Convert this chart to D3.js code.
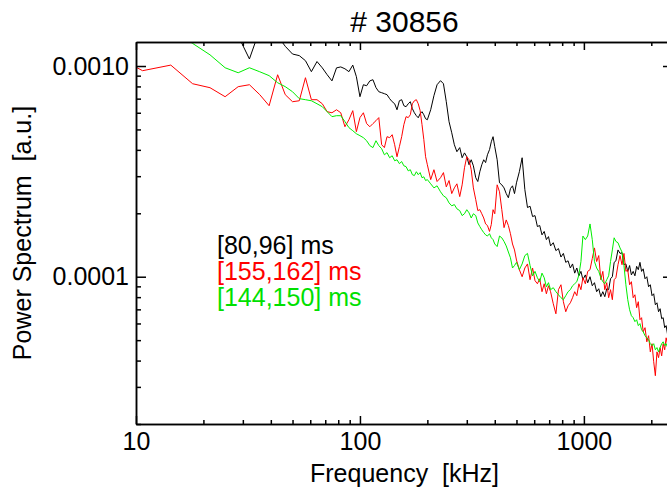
<!DOCTYPE html>
<html>
<head>
<meta charset="utf-8">
<script src="https://cdn.jsdelivr.net/npm/d3@7"></script>
<style>
  body { margin: 0; background: #fff; }
  svg { display: block; }
</style>
</head>
<body>
<script>
(function (d3) {
  'use strict';

  // frequency bins [kHz], shared by the three spectra
  const freq = [
    7.1, 10.7, 14.3, 17.9, 21.4, 25.0, 28.6, 32.1, 35.7, 39.3, 42.9, 46.4, 50.0, 53.6, 57.1, 60.7, 64.3, 67.9, 71.4, 75.0, 78.6, 82.1, 85.7, 89.3, 92.9, 96.4, 100,
    103.6, 107.1, 110.7, 114.3, 117.9, 121.4, 125.0, 128.6, 132.1, 135.7, 139.3, 142.9, 146.4, 150.0, 153.6, 157.1, 160.7, 164.3, 167.9, 171.4, 175.0, 178.6, 182.1, 185.7, 189.3, 192.9, 196.4, 200,
    207, 214, 221, 229, 236, 243, 250, 257, 264, 271, 279, 286, 293, 300, 307, 314, 321, 329, 336, 343, 350, 357, 364, 371, 379, 386, 393, 400,
    410, 420, 430, 440, 450, 460, 470, 480, 490, 500,
    515, 530, 545, 560, 575, 590, 605, 620, 635, 650, 665, 680, 695, 710,
    730, 750, 770, 790, 810, 830, 850, 870, 890, 910, 930, 950, 970, 990,
    1015, 1040, 1065, 1090, 1115, 1140, 1165, 1190, 1215, 1240, 1265, 1290, 1315, 1340, 1365, 1390,
    1420, 1450, 1480, 1510, 1540, 1570, 1600, 1630, 1660, 1690, 1720, 1750, 1780, 1810, 1840,
    1875, 1910, 1945, 1980, 2015, 2050, 2085, 2120, 2155, 2190, 2225, 2260, 2295, 2330, 2365, 2400, 2435, 2470, 2500,
  ];

  // [80,96] ms
  const spec80 = [
    2.6e-3, 2.4e-3, 2.2e-3, 2.0e-3, 1.9e-3, 1.8e-3, 1.39e-3, 1.08e-3, 1.49e-3, 1.57e-3, 1.39e-3, 1.24e-3, 1.14e-3, 1.12e-3, 1.06e-3, 9.4e-4, 1.05e-3, 9.8e-4, 9.09e-4, 8.5e-4, 9.8e-4, 9.9e-4, 9.7e-4, 9.4e-4, 1.01e-3, 8.9e-4, 7.15e-4,
    8.15e-4, 8.06e-4, 8.5e-4, 8.61e-4, 7.9e-4, 7.55e-4, 7.47e-4, 7.39e-4, 7.31e-4, 7.0e-4, 6.77e-4, 6.62e-4, 6.2e-4, 6.84e-4, 6.92e-4, 6.48e-4, 6.41e-4, 6.62e-4, 6.77e-4, 6.28e-4, 6.0e-4, 5.81e-4, 5.68e-4, 5.94e-4, 6.07e-4, 5.87e-4, 5.62e-4, 5.56e-4,
    6.2e-4, 7.23e-4, 8.15e-4, 8.52e-4, 8.24e-4, 6.77e-4, 5.44e-4, 4.82e-4, 4.23e-4, 3.92e-4, 4.1e-4, 3.67e-4, 3.87e-4, 3.71e-4, 3.4e-4, 3.59e-4, 3.36e-4, 2.95e-4, 2.83e-4, 3.15e-4, 3.4e-4, 3.59e-4, 3.48e-4, 3.79e-4, 4.01e-4, 4.37e-4, 4.62e-4, 4.14e-4,
    3.59e-4, 2.79e-4, 2.73e-4, 2.64e-4, 2.48e-4, 2.37e-4, 2.62e-4, 2.7e-4, 2.48e-4, 2.79e-4,
    3.15e-4, 3.67e-4, 2.59e-4, 2.13e-4, 2.16e-4, 1.93e-4, 1.95e-4, 1.73e-4, 1.75e-4, 1.58e-4, 1.64e-4, 1.5e-4, 1.55e-4, 1.4e-4,
    1.45e-4, 1.33e-4, 1.36e-4, 1.24e-4, 1.29e-4, 1.17e-4, 1.19e-4, 1.1e-4, 1.15e-4, 1.04e-4, 1.1e-4, 1.01e-4, 1.06e-4, 9.68e-5,
    1.02e-4, 9.36e-5, 1.0e-4, 9.06e-5, 9.37e-5, 8.49e-5, 8.77e-5, 8.04e-5, 8.49e-5, 8.04e-5, 8.77e-5, 8.68e-5, 9.78e-5, 1.0e-4, 1.17e-4, 1.19e-4,
    1.34e-4, 1.29e-4, 1.3e-4, 1.14e-4, 1.15e-4, 1.06e-4, 1.13e-4, 1.02e-4, 1.06e-4, 1.01e-4, 1.12e-4, 1.08e-4, 1.17e-4, 1.06e-4, 1.09e-4,
    9.78e-5, 1.0e-4, 8.96e-5, 9.16e-5, 8.13e-5, 8.3e-5, 7.36e-5, 7.52e-5, 6.82e-5, 7.05e-5, 6.32e-5, 6.39e-5, 5.73e-5, 5.86e-5, 5.31e-5, 5.43e-5, 4.92e-5, 5.08e-5, 4.61e-5,
  ];

  // [155,162] ms
  const spec155 = [
    1.2e-3, 9.5e-4, 1.01e-3, 8.24e-4, 7.89e-4, 7.15e-4, 7.98e-4, 8.15e-4, 7.31e-4, 6.48e-4, 9.09e-4, 7.31e-4, 6.77e-4, 6.84e-4, 8.8e-4, 6.92e-4, 6.92e-4, 6.62e-4, 6.07e-4, 6.0e-4, 6.2e-4, 6.0e-4, 5.15e-4, 5.56e-4, 6.14e-4, 4.88e-4, 5.69e-4,
    6.0e-4, 5.33e-4, 5.15e-4, 5.33e-4, 5.5e-4, 5.69e-4, 4.23e-4, 4.1e-4, 4.62e-4, 4.57e-4, 4.72e-4, 4.23e-4, 3.71e-4, 4.14e-4, 4.62e-4, 5.27e-4, 5.75e-4, 5.69e-4, 5.87e-4, 6.62e-4, 6.84e-4, 6.92e-4, 6.62e-4, 6.14e-4, 5.27e-4, 4.47e-4, 3.71e-4, 3.4e-4,
    2.89e-4, 3.22e-4, 2.83e-4, 2.95e-4, 3.12e-4, 2.67e-4, 2.86e-4, 2.48e-4, 2.64e-4, 2.76e-4, 2.4e-4, 2.73e-4, 3.29e-4, 3.71e-4, 3.59e-4, 3.22e-4, 2.64e-4, 2.32e-4, 2.06e-4, 2.08e-4, 1.99e-4, 1.9e-4, 1.78e-4, 1.75e-4, 1.64e-4, 1.77e-4, 2.08e-4, 1.99e-4,
    2.73e-4, 2.53e-4, 2.08e-4, 1.71e-4, 1.86e-4, 1.75e-4, 1.6e-4, 1.43e-4, 1.34e-4, 1.2e-4,
    1.08e-4, 1.0e-4, 1.1e-4, 1.15e-4, 9.68e-5, 1.1e-4, 9.58e-5, 9.26e-5, 9.78e-5, 8.49e-5, 9.26e-5, 8.3e-5, 9.06e-5, 8.49e-5,
    7.44e-5, 6.67e-5, 8.68e-5, 9.16e-5, 7.61e-5, 6.82e-5, 7.28e-5, 7.52e-5, 7.95e-5, 8.49e-5, 8.13e-5, 9.26e-5, 8.68e-5, 9.89e-5,
    9.26e-5, 1.06e-4, 1.08e-4, 1.22e-4, 1.37e-4, 1.18e-4, 1.26e-4, 9.68e-5, 1.06e-4, 8.68e-5, 9.37e-5, 7.95e-5, 8.68e-5, 7.78e-5, 9.68e-5, 9.89e-5,
    1.14e-4, 1.26e-4, 1.14e-4, 1.29e-4, 1.06e-4, 1.08e-4, 9.16e-5, 9.47e-5, 7.95e-5, 8.21e-5, 7.13e-5, 7.61e-5, 6.25e-5, 6.39e-5, 5.48e-5,
    5.73e-5, 4.91e-5, 5.25e-5, 4.4e-5, 4.81e-5, 3.95e-5, 3.39e-5, 4.4e-5, 4.13e-5, 4.61e-5, 4.21e-5, 4.81e-5, 4.5e-5, 5.13e-5, 4.76e-5, 5.25e-5, 4.81e-5, 5.13e-5, 4.76e-5,
  ];

  // [144,150] ms
  const spec144 = [
    2.2e-3, 1.77e-3, 1.49e-3, 1.28e-3, 1.13e-3, 9.81e-4, 9.29e-4, 9.81e-4, 9.39e-4, 9.0e-4, 8.33e-4, 7.98e-4, 7.55e-4, 7.0e-4, 6.92e-4, 6.84e-4, 6.62e-4, 6.41e-4, 6.07e-4, 5.75e-4, 5.81e-4, 5.81e-4, 5.45e-4, 5.1e-4, 4.93e-4, 4.77e-4, 4.67e-4,
    4.57e-4, 4.42e-4, 4.19e-4, 4.1e-4, 4.42e-4, 4.19e-4, 4.05e-4, 3.79e-4, 3.88e-4, 3.67e-4, 3.75e-4, 3.55e-4, 3.59e-4, 3.44e-4, 3.52e-4, 3.36e-4, 3.33e-4, 3.18e-4, 3.22e-4, 3.05e-4, 3.02e-4, 3.15e-4, 3.05e-4, 3.12e-4, 2.95e-4, 2.98e-4, 2.86e-4, 2.89e-4,
    2.76e-4, 2.64e-4, 2.7e-4, 2.53e-4, 2.42e-4, 2.37e-4, 2.24e-4, 2.17e-4, 2.2e-4, 2.1e-4, 2.06e-4, 1.95e-4, 1.99e-4, 2.08e-4, 2.01e-4, 1.9e-4, 1.99e-4, 1.95e-4, 1.8e-4, 1.73e-4, 1.67e-4, 1.62e-4, 1.58e-4, 1.56e-4, 1.6e-4, 1.53e-4, 1.5e-4, 1.43e-4,
    1.39e-4, 1.56e-4, 1.53e-4, 1.47e-4, 1.4e-4, 1.31e-4, 1.23e-4, 1.1e-4, 1.13e-4, 1.17e-4,
    1.08e-4, 1.15e-4, 1.26e-4, 1.29e-4, 1.13e-4, 1.01e-4, 1.06e-4, 9.89e-5, 9.47e-5, 1.04e-4, 9.89e-5, 8.96e-5, 9.37e-5, 8.68e-5,
    8.87e-5, 8.49e-5, 8.21e-5, 7.95e-5, 7.78e-5, 8.13e-5, 8.49e-5, 8.68e-5, 9.06e-5, 9.26e-5, 9.47e-5, 1.02e-4, 1.18e-4, 1.56e-4,
    1.5e-4, 1.56e-4, 1.78e-4, 1.5e-4, 1.18e-4, 1.1e-4, 1.06e-4, 9.89e-5, 9.47e-5, 9.26e-5, 9.68e-5, 1.01e-4, 1.18e-4, 1.34e-4, 1.53e-4, 1.47e-4,
    1.45e-4, 1.37e-4, 1.31e-4, 1.13e-4, 9.16e-5, 7.78e-5, 6.97e-5, 6.53e-5, 6.39e-5, 6.12e-5, 6.25e-5, 5.86e-5, 5.99e-5, 5.6e-5, 5.48e-5,
    5.25e-5, 5.13e-5, 5.02e-5, 4.81e-5, 4.71e-5, 4.81e-5, 4.5e-5, 4.61e-5, 4.4e-5, 4.61e-5, 4.81e-5, 4.91e-5, 4.71e-5, 4.81e-5, 4.61e-5, 4.76e-5, 4.5e-5, 4.71e-5, 4.61e-5,
  ];

  const seriesNames = ['[80,96] ms', '[155,162] ms', '[144,150] ms'];
  const seriesColors = ['#000000', '#ff0000', '#00ee00'];
  const seriesValues = [spec80, spec155, spec144];

  const xMajor = [10, 100, 1000];
  const xMajorLabels = ['10', '100', '1000'];
  const xMinor = [20, 30, 40, 50, 60, 70, 80, 90, 200, 300, 400, 500, 600, 700, 800, 900, 2000];
  const yMajor = [1e-4, 1e-3];
  const yMajorLabels = ['0.0001', '0.0010'];
  const yMinor = [2e-5, 3e-5, 4e-5, 5e-5, 6e-5, 7e-5, 8e-5, 9e-5, 2e-4, 3e-4, 4e-4, 5e-4, 6e-4, 7e-4, 8e-4, 9e-4];

  const width = 667;
  const height = 492;
  const margin = { top: 42, right: -6, bottom: 68, left: 136 };
  const font = "'Liberation Sans', Arial, sans-serif";

  const svg = d3.select('body')
    .append('svg')
    .attr('width', width)
    .attr('height', height)
    .attr('font-family', font);

  const x = d3.scaleLog()
    .domain([10, 2500])
    .range([margin.left, width - margin.right]);

  const y = d3.scaleLog()
    .domain([2e-5, 1.3e-3])
    .range([height - margin.bottom, margin.top]);

  svg.append('clipPath')
    .attr('id', 'plot-clip')
    .append('rect')
    .attr('x', margin.left)
    .attr('y', margin.top)
    .attr('width', x.range()[1] - margin.left)
    .attr('height', y.range()[0] - margin.top);

  const line = d3.line()
    .x((d) => x(d[0]))
    .y((d) => y(d[1]));

  svg.append('g')
    .attr('clip-path', 'url(#plot-clip)')
    .selectAll('path')
    .data(seriesValues)
    .join('path')
    .attr('d', (vals) => line(d3.zip(freq, vals)))
    .attr('fill', 'none')
    .attr('stroke', (d, i) => seriesColors[i])
    .attr('stroke-width', 1);

  // axis box with inward ticks on all four sides
  const drawAxis = (axis, tx, ty) => {
    const g = svg.append('g')
      .attr('transform', `translate(${tx},${ty})`)
      .call(axis);
    g.attr('font-family', font).attr('font-size', 25);
    g.selectAll('path.domain, line').attr('stroke', '#000').attr('stroke-width', 1.5);
    g.selectAll('text').attr('fill', '#000');
    return g;
  };

  const bottom = y.range()[0];
  const top = margin.top;
  const left = margin.left;
  const right = x.range()[1];

  drawAxis(d3.axisBottom(x).tickValues(xMajor).tickFormat((d, i) => xMajorLabels[i])
    .tickSizeInner(-8).tickSizeOuter(0).tickPadding(8), 0, bottom);
  drawAxis(d3.axisBottom(x).tickValues(xMinor).tickFormat('')
    .tickSizeInner(-4).tickSizeOuter(0), 0, bottom);
  drawAxis(d3.axisTop(x).tickValues(xMajor).tickFormat('')
    .tickSizeInner(-8).tickSizeOuter(0), 0, top);
  drawAxis(d3.axisTop(x).tickValues(xMinor).tickFormat('')
    .tickSizeInner(-4).tickSizeOuter(0), 0, top);

  drawAxis(d3.axisLeft(y).tickValues(yMajor).tickFormat((d, i) => yMajorLabels[i])
    .tickSizeInner(-10).tickSizeOuter(0).tickPadding(7), left, 0);
  drawAxis(d3.axisLeft(y).tickValues(yMinor).tickFormat('')
    .tickSizeInner(-5).tickSizeOuter(0), left, 0);
  drawAxis(d3.axisRight(y).tickValues(yMajor).tickFormat('')
    .tickSizeInner(-10).tickSizeOuter(0), right, 0);
  drawAxis(d3.axisRight(y).tickValues(yMinor).tickFormat('')
    .tickSizeInner(-5).tickSizeOuter(0), right, 0);

  const midX = (left + right) / 2;

  svg.append('text')
    .attr('x', midX)
    .attr('y', 32)
    .attr('text-anchor', 'middle')
    .attr('font-size', 30)
    .text('# 30856');

  svg.append('text')
    .attr('x', midX)
    .attr('y', 482)
    .attr('text-anchor', 'middle')
    .attr('font-size', 25)
    .style('white-space', 'pre')
    .text('Frequency  [kHz]');

  svg.append('text')
    .attr('transform', `translate(31,${(top + bottom) / 2}) rotate(-90)`)
    .attr('text-anchor', 'middle')
    .attr('font-size', 25)
    .style('white-space', 'pre')
    .text('Power Spectrum  [a.u.]');

  svg.append('g')
    .selectAll('text')
    .data(seriesNames)
    .join('text')
    .attr('x', 217)
    .attr('y', (d, i) => 254 + i * 26)
    .attr('font-size', 25)
    .attr('fill', (d, i) => (i === 2 ? '#00e000' : seriesColors[i]))
    .text((d) => d);

})(d3);
</script>
</body>
</html>
